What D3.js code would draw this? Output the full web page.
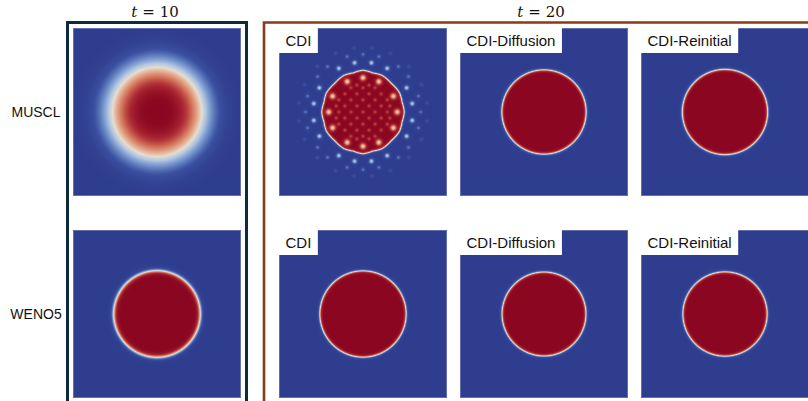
<!DOCTYPE html>
<html>
<head>
<meta charset="utf-8">
<script src="https://cdn.jsdelivr.net/npm/d3@7"></script>
<style>
  html, body { margin: 0; padding: 0; background: #ffffff; }
  svg { display: block; }
</style>
</head>
<body>
<svg id="fig" width="808" height="401"></svg>
<script>
// ---- data ---------------------------------------------------------------
// Rows: advection schemes; columns at t = 20: interface-regularisation methods
const schemes = ["MUSCL", "WENO5"];
const methods = ["CDI", "CDI-Diffusion", "CDI-Reinitial"];
const timeLabels = ["10", "20"];

// Drop radius (phi = 0.5 contour) and interface thickness, domain units
const t10Radius = [0.270, 0.258];            // MUSCL, WENO5
const t10Width  = [0.060, 0.015];
const t10Shape  = ["smeared", "tanh"];
const t20Radius = [[0.240, 0.251, 0.254],     // MUSCL: CDI, CDI-Diffusion, CDI-Reinitial
                   [0.257, 0.250, 0.251]];    // WENO5
const t20Width  = [[0.008, 0.009, 0.009],
                   [0.009, 0.009, 0.009]];

// MUSCL + CDI at t = 20: faceted interface, radius by polar angle (first quadrant, mirrored)
const facetAngles = [0, 14, 27.5, 45, 62.5, 76, 90];
const facetRadius = [0.246, 0.240, 0.246, 0.240, 0.246, 0.240, 0.249];

// Spurious spots in that run: rings given by radius, angles (first quadrant) and strength
const spotRings = [
  { r: 0.204, angles: [0, 27.5, 62.5, 90],       strength: 0.92, size: 0.0125 },
  { r: 0.297, angles: [9.7, 29, 61, 80.3],       strength: 0.85, size: 0.0105 },
  { r: 0.343, angles: [0, 16, 38, 52, 74, 90],   strength: 0.45, size: 0.0085 },
  { r: 0.385, angles: [8, 25, 45, 65, 82],       strength: 0.25, size: 0.0075 }
];
// Faint pink checker inside the drop (first quadrant offsets, mirrored)
const innerSpots = [[0.036, 0.036], [0.072, 0], [0, 0.072], [0.108, 0.036], [0.036, 0.108],
                    [0.072, 0.072], [0.144, 0], [0, 0.144], [0.108, 0.108], [0.144, 0.072],
                    [0.072, 0.144], [0, 0], [0.036, 0.16], [0.16, 0.036]];

// Colour map of the volume fraction phi
const phiStops    = [0, 0.12, 0.28, 0.42, 0.52, 0.62, 0.75, 0.88, 1];
const colourStops = ["#2f3d8e", "#3a4fa0", "#7393cc", "#b4c7e2", "#e6dccf",
                     "#e3ad8f", "#d27058", "#ad2c35", "#8a0621"];

// ---- helpers ------------------------------------------------------------
const svg = d3.select("#fig");
const colour = d3.scaleLinear().domain(phiStops).range(colourStops)
  .interpolate(d3.interpolateRgb).clamp(true);
const LUT_N = 1024;
const lut = d3.range(LUT_N).map(i => d3.rgb(colour(i / (LUT_N - 1))));

const facetScale = d3.scaleLinear().domain(facetAngles).range(facetRadius);

function mirror(list) {
  const out = [];
  list.forEach(([x, y]) => {
    [[1, 1], [-1, 1], [1, -1], [-1, -1]].forEach(([sx, sy]) => {
      const p = [sx * x, sy * y];
      if (!out.some(q => Math.abs(q[0] - p[0]) < 1e-9 && Math.abs(q[1] - p[1]) < 1e-9)) out.push(p);
    });
  });
  return out;
}

const ringPoints = [];
spotRings.forEach(ring => {
  const pts = ring.angles.map(a => [ring.r * Math.cos(a * Math.PI / 180), ring.r * Math.sin(a * Math.PI / 180)]);
  mirror(pts).forEach(p => ringPoints.push({ x: p[0], y: p[1], s: ring.strength, w: ring.size }));
});
mirror(innerSpots).forEach(p => ringPoints.push({ x: p[0], y: p[1], s: 0.34, w: 0.0075 }));

function tanhProfile(r, R, w) { return 0.5 * (1 - Math.tanh((r - R) / w)); }
function smearedProfile(r, R) { return Math.exp(-Math.LN2 * Math.pow(r / R, 3.4)); }

function phiField(kind, R, w) {
  if (kind === "smeared") return (x, y) => smearedProfile(Math.hypot(x, y), R);
  if (kind === "faceted") {
    return (x, y) => {
      const r = Math.hypot(x, y);
      let a = Math.abs(Math.atan2(y, x)) * 180 / Math.PI;
      if (a > 90) a = 180 - a;
      let phi = tanhProfile(r, facetScale(a), w);
      for (const s of ringPoints) {
        const d2 = (x - s.x) ** 2 + (y - s.y) ** 2;
        if (d2 > 16 * s.w * s.w) continue;
        phi += (0.5 - phi) * s.s * Math.exp(-d2 / (2 * s.w * s.w));
      }
      return phi;
    };
  }
  return (x, y) => tanhProfile(Math.hypot(x, y), R, w);
}

function drawPanel(p) {
  const w = p.w, h = p.h;
  const sx = d3.scaleLinear().domain([-0.5, 0.5]).range([0, 168]);
  const sy = d3.scaleLinear().domain([0.5, -0.5]).range([0, 168]);
  const cv = document.createElement("canvas");
  cv.width = w; cv.height = h;
  const ctx = cv.getContext("2d");
  const img = ctx.createImageData(w, h);
  const f = phiField(p.kind, p.R, p.width);
  for (let j = 0; j < h; j++) {
    const y = sy.invert(j + 0.5);
    for (let i = 0; i < w; i++) {
      const x = sx.invert(i + 0.5);
      const phi = Math.max(0, Math.min(1, f(x, y)));
      const c = lut[Math.round(phi * (LUT_N - 1))];
      const k = 4 * (j * w + i);
      img.data[k] = c.r; img.data[k + 1] = c.g; img.data[k + 2] = c.b; img.data[k + 3] = 255;
    }
  }
  ctx.putImageData(img, 0, 0);
  svg.append("image")
    .attr("x", p.x).attr("y", p.y).attr("width", w).attr("height", h)
    .attr("href", cv.toDataURL());
  svg.append("rect")
    .attr("x", p.x + 0.5).attr("y", p.y + 0.5).attr("width", w - 1).attr("height", h - 1)
    .attr("fill", "none").attr("stroke", "#8f98c8").attr("stroke-opacity", 0.55).attr("stroke-width", 1);

  if (p.label) {
    const g = svg.append("g");
    const box = g.append("rect").attr("x", p.x).attr("y", p.y).attr("height", 25).attr("fill", "#ffffff");
    const t = g.append("text")
      .attr("x", p.x + 6.5).attr("y", p.y + 17.5)
      .attr("font-family", "'Liberation Sans', Arial, sans-serif")
      .attr("font-size", 15).attr("fill", "#111111")
      .text(p.label);
    box.attr("width", t.node().getComputedTextLength() + 13);
  }
}

// ---- layout -------------------------------------------------------------
const rowY = [28, 230];
const colX10 = 73;
const colX20 = [279, 460, 641];
const panelSize = 168;

const panels = [];
schemes.forEach((s, i) => {
  panels.push({ x: colX10, y: rowY[i], w: panelSize, h: panelSize,
                kind: t10Shape[i], R: t10Radius[i], width: t10Width[i] });
  methods.forEach((m, j) => {
    panels.push({ x: colX20[j], y: rowY[i], w: panelSize, h: panelSize, label: m,
                  kind: (i === 0 && j === 0) ? "faceted" : "tanh",
                  R: t20Radius[i][j], width: t20Width[i][j] });
  });
});
panels.forEach(drawPanel);

// Frames grouping the two time instants
svg.append("path")
  .attr("d", "M67.5,404 V22.5 H246.5 V404")
  .attr("fill", "none").attr("stroke", "#0e2b3b").attr("stroke-width", 3);
svg.append("path")
  .attr("d", "M264,404 V22.5 H812")
  .attr("fill", "none").attr("stroke", "#8a3a14").attr("stroke-width", 2.6);

// Time headers
function timeHeader(cx, value) {
  const t = svg.append("text")
    .attr("x", cx).attr("y", 17).attr("text-anchor", "middle")
    .attr("font-family", "'DejaVu Serif', 'Liberation Serif', serif")
    .attr("font-size", 15).attr("fill", "#111111");
  t.append("tspan").attr("font-style", "italic").text("t");
  t.append("tspan").attr("dx", 5).text("=");
  t.append("tspan").attr("dx", 5).text(value);
}
timeHeader(155, timeLabels[0]);
timeHeader(541, timeLabels[1]);

// Row labels
svg.selectAll("text.row").data(schemes).enter().append("text")
  .attr("class", "row")
  .attr("x", 36).attr("y", (d, i) => rowY[i] + 89)
  .attr("text-anchor", "middle")
  .attr("font-family", "'Liberation Sans', Arial, sans-serif")
  .attr("font-size", 14).attr("fill", "#111111")
  .text(d => d);
</script>
</body>
</html>
